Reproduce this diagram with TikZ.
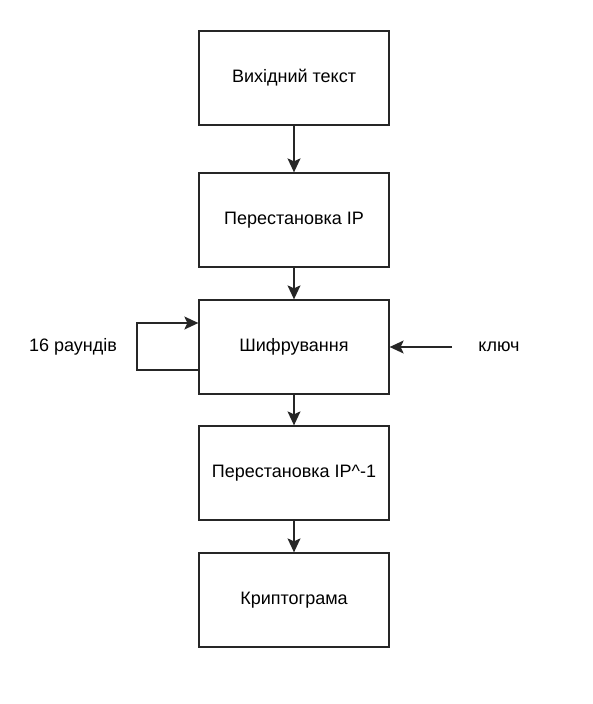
\documentclass[tikz,border=0pt]{standalone}
\usepackage{fontspec}
\setmainfont{Liberation Sans}
\usetikzlibrary{arrows.meta}
\begin{document}
\begin{tikzpicture}[x=1pt,y=-1pt,
  stage/.style={draw=black!85, line width=1.3pt, minimum width=190pt, minimum height=94pt,
    inner sep=0pt, font=\fontsize{18}{22}\selectfont},
  flow/.style={draw=black!85, line width=1.3pt, -{Stealth[length=14pt,width=13pt,inset=3pt]}},
  lbl/.style={font=\fontsize{18}{22}\selectfont}]
\useasboundingbox (0,0) rectangle (592,704);
\node[stage] (src) at (294,78) {Вихідний текст};
\node[stage] (ip) at (294,220) {Перестановка IP};
\node[stage] (enc) at (294,347) {Шифрування};
\node[stage] (ipinv) at (294,473) {Перестановка IP\^{}-1};
\node[stage] (out) at (294,600) {Криптограма};
\node[lbl] (rounds) at (73,347) {16 раундів};
\node[lbl] (key) at (499,347) {ключ};
\draw[flow] (src) -- (ip);
\draw[flow] (ip) -- (enc);
\draw[flow] (enc) -- (ipinv);
\draw[flow] (ipinv) -- (out);
\coordinate (keyend) at (enc.east -| 452,0);
\draw[flow] (keyend) -- (enc.east);
\coordinate (loopa) at (enc.west |- 0,370);
\coordinate (loopb) at (enc.west |- 0,323);
\draw[flow] (loopa) -- (137,370) -- (137,323) -- (loopb);
\end{tikzpicture}
\end{document}
